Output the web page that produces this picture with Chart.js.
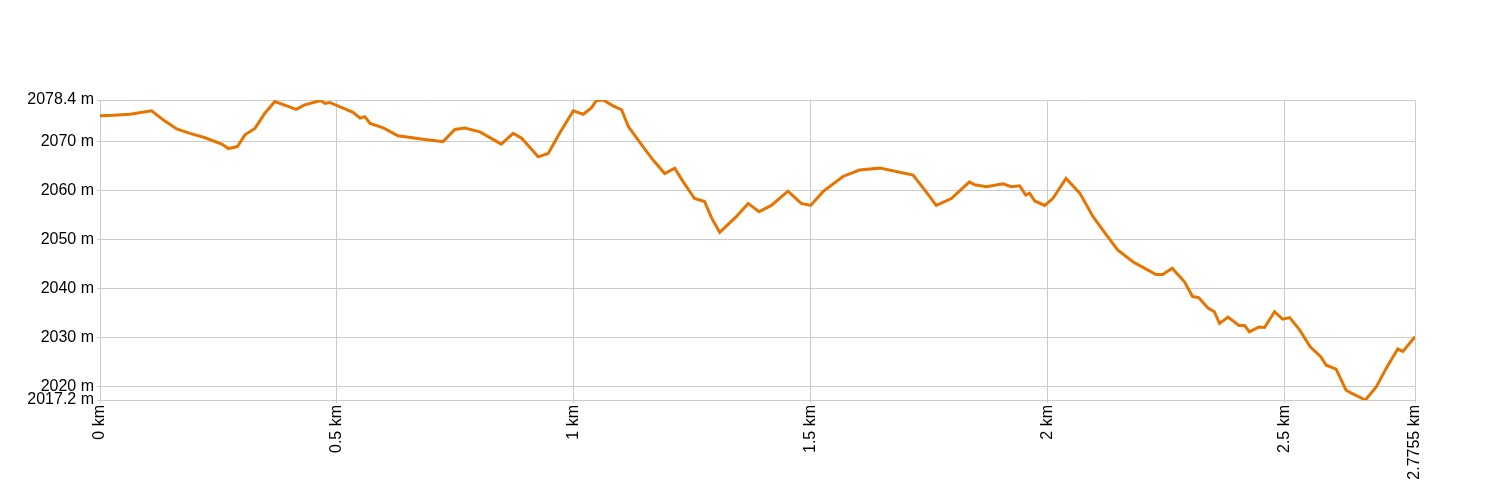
<!DOCTYPE html>
<html>
<head>
<meta charset="utf-8">
<script src="https://cdn.jsdelivr.net/npm/chart.js@4.4.0/dist/chart.umd.min.js"></script>
<style>
html,body{margin:0;padding:0;background:#fff;}
#wrap{width:1500px;height:500px;}
</style>
</head>
<body>
<div id="wrap"><canvas id="c" width="1500" height="500"></canvas></div>
<script>
const distanceKm = [0,0.028,0.063,0.109,0.134,0.162,0.190,0.222,0.257,0.271,0.290,0.306,0.327,0.348,0.369,0.394,0.414,0.432,0.466,0.475,0.485,0.534,0.549,0.559,0.570,0.598,0.629,0.682,0.724,0.749,0.770,0.802,0.847,0.872,0.890,0.925,0.946,0.970,0.999,1.020,1.037,1.048,1.062,1.083,1.101,1.115,1.146,1.167,1.192,1.213,1.231,1.255,1.276,1.291,1.308,1.343,1.368,1.391,1.417,1.452,1.480,1.500,1.526,1.568,1.603,1.646,1.716,1.741,1.765,1.797,1.835,1.846,1.871,1.906,1.923,1.941,1.954,1.962,1.973,1.994,2.011,2.039,2.068,2.096,2.124,2.148,2.180,2.208,2.229,2.243,2.263,2.289,2.306,2.319,2.338,2.352,2.363,2.381,2.404,2.416,2.426,2.446,2.458,2.479,2.496,2.511,2.532,2.554,2.577,2.588,2.609,2.630,2.641,2.671,2.694,2.715,2.739,2.750,2.7755];
const elevationM = [2075.2,2075.3,2075.5,2076.2,2074.3,2072.5,2071.6,2070.7,2069.4,2068.5,2068.9,2071.3,2072.6,2075.7,2078.1,2077.2,2076.5,2077.4,2078.3,2077.7,2077.9,2075.9,2074.7,2075.0,2073.6,2072.7,2071.1,2070.4,2069.9,2072.4,2072.7,2071.9,2069.4,2071.6,2070.6,2066.8,2067.5,2071.6,2076.2,2075.5,2076.8,2078.3,2078.4,2077.2,2076.4,2073.0,2068.9,2066.2,2063.4,2064.5,2061.7,2058.3,2057.7,2054.3,2051.4,2054.6,2057.3,2055.6,2056.9,2059.8,2057.3,2056.9,2059.7,2062.8,2064.1,2064.5,2063.1,2060.0,2056.9,2058.3,2061.7,2061.1,2060.7,2061.3,2060.7,2060.9,2059.0,2059.4,2057.8,2056.9,2058.3,2062.4,2059.4,2054.6,2050.9,2047.8,2045.4,2043.9,2042.8,2042.8,2044.1,2041.3,2038.3,2038.1,2036.0,2035.2,2032.8,2034.1,2032.4,2032.4,2031.1,2032.1,2032.0,2035.2,2033.7,2034.0,2031.5,2028.1,2026.0,2024.3,2023.5,2019.2,2018.6,2017.2,2019.9,2023.7,2027.6,2027.1,2030.1];
const xTicks = [0,0.5,1,1.5,2,2.5,2.7755];
const yTicks = [2017.2,2020,2030,2040,2050,2060,2070,2078.4];

const points = distanceKm.map((d,i)=>({x:d,y:elevationM[i]}));
const FONT = {family:'"Liberation Sans", Arial, sans-serif', size:16};

new Chart(document.getElementById('c'), {
  type:'line',
  data:{datasets:[{data:points,borderColor:'#e87400',borderWidth:3,pointRadius:0,tension:0,fill:false}]},
  options:{
    responsive:false,animation:false,
    layout:{padding:{top:100,right:85,left:0,bottom:0}},
    plugins:{legend:{display:false},tooltip:{enabled:false}},
    scales:{
      x:{type:'linear',min:0,max:2.7755,
        afterBuildTicks:s=>{s.ticks=xTicks.map(v=>({value:v}));},
        afterFit:s=>{s.height=100;},
        grid:{color:'#cccccc',drawTicks:true,tickLength:3},
        border:{color:'#cccccc'},
        ticks:{autoSkip:false,maxRotation:90,minRotation:90,padding:2,color:'#000',font:FONT,
          callback:v=>v+' km'}},
      y:{type:'linear',min:2017.2,max:2078.4,
        afterBuildTicks:s=>{s.ticks=yTicks.map(v=>({value:v}));},
        afterFit:s=>{s.width=100;},
        grid:{color:'#cccccc',drawTicks:true,tickLength:3},
        border:{color:'#cccccc'},
        ticks:{autoSkip:false,padding:3,color:'#000',font:FONT,callback:v=>v+' m'}}
    }
  },
  plugins:[{id:'rb',afterDraw(c){const a=c.chartArea,x=c.ctx;x.save();x.strokeStyle='#cccccc';x.lineWidth=1;x.beginPath();x.moveTo(a.right+0.5,a.top);x.lineTo(a.right+0.5,a.bottom);x.stroke();x.restore();}}]
});
</script>
</body>
</html>
